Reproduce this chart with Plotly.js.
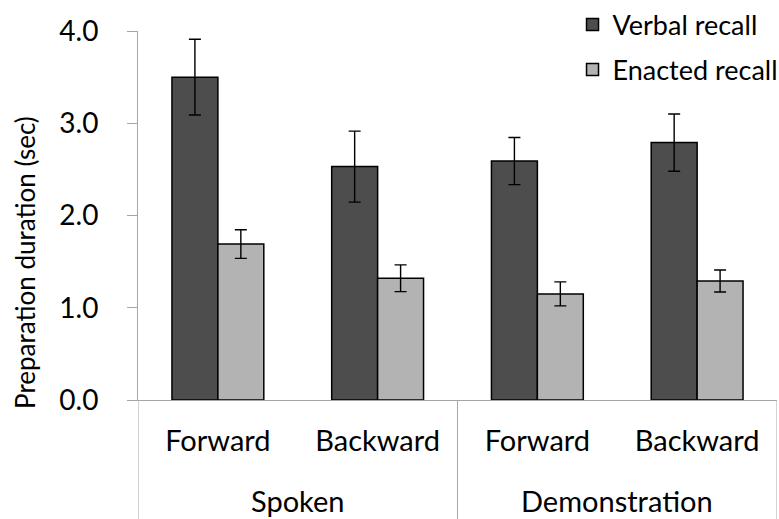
<!DOCTYPE html>
<html>
<head>
<meta charset="utf-8">
<script src="https://cdn.plot.ly/plotly-3.0.1.min.js"></script>
<style>
  html, body { margin: 0; padding: 0; background: #fff; }
  #chart { width: 779px; height: 519px; }
</style>
</head>
<body>
<div id="chart"></div>
<script>
// Preparation duration by instruction mode and recall order
const groups = ["Spoken", "Demonstration"];
const orders = ["Forward", "Backward"];
const tickLabels = ["Forward", "Backward", "Forward", "Backward"];
const positions = [0, 1, 2, 3];

const verbalMean = [3.50, 2.53, 2.59, 2.79];
const verbalErr  = [0.41, 0.385, 0.255, 0.31];
const enactedMean = [1.69, 1.32, 1.15, 1.29];
const enactedErr  = [0.155, 0.145, 0.13, 0.12];

const yTitle = "Preparation duration (sec)";

const FONT = "Lato, 'Open Sans', sans-serif";
const AXIS_GREY = "#a6a6a6";

function barTrace(name, y, err, color) {
  return {
    type: "bar",
    name: name,
    legendgroup: name,
    x: positions,
    y: y,
    marker: { color: color, line: { color: "#000", width: 1.5 } },
    error_y: { type: "data", array: err, visible: true, color: "#000", thickness: 1.4, width: 6 },
    hoverinfo: "y"
  };
}

const traces = [
  barTrace("Verbal recall", verbalMean, verbalErr, "#4d4d4d"),
  barTrace("Enacted recall", enactedMean, enactedErr, "#b3b3b3")
];

// group labels centred beneath each pair of categories
const perGroup = orders.length;
const annotations = groups.map((g, i) => ({
  text: g,
  x: i * perGroup + (perGroup - 1) / 2,
  xref: "x",
  y: -0.2737,
  yref: "paper",
  showarrow: false,
  xanchor: "center",
  yanchor: "middle",
  font: { family: FONT, size: 29, color: "#000" }
}));

// value-axis title, set below the axis midpoint
annotations.push({
  text: yTitle,
  textangle: -90,
  x: -0.178,
  xref: "paper",
  xanchor: "center",
  y: 0.372,
  yref: "paper",
  yanchor: "middle",
  showarrow: false,
  font: { family: FONT, size: 26, color: "#000" }
});

// dividers at the edges of each group
const shapes = [];
for (let i = 0; i <= groups.length; i++) {
  shapes.push({
    type: "line",
    xref: "x",
    yref: "paper",
    x0: i * perGroup - 0.5,
    x1: i * perGroup - 0.5,
    y0: 0,
    y1: -0.33,
    line: { color: AXIS_GREY, width: 1 }
  });
}

const layout = {
  width: 779,
  height: 519,
  margin: { l: 138, r: 2, t: 31, b: 119, autoexpand: false },
  paper_bgcolor: "#fff",
  plot_bgcolor: "#fff",
  font: { family: FONT, size: 27, color: "#000" },
  barmode: "group",
  bargap: 0.425,
  bargroupgap: 0,
  showlegend: true,
  legend: {
    x: 0.68,
    xanchor: "left",
    y: 1.083,
    yanchor: "top",
    traceorder: "grouped",
    tracegroupgap: 7,
    bgcolor: "rgba(0,0,0,0)",
    font: { family: FONT, size: 27, color: "#000" }
  },
  xaxis: {
    range: [-0.5, 3.5],
    tickvals: positions,
    ticktext: tickLabels,
    showgrid: false,
    zeroline: false,
    showline: true,
    linecolor: AXIS_GREY,
    linewidth: 1,
    ticks: "",
    ticklabelstandoff: 15,
    tickfont: { family: FONT, size: 29, color: "#000" },
    fixedrange: true
  },
  yaxis: {
    range: [0, 4],
    tickvals: [0, 1, 2, 3, 4],
    tickformat: ".1f",
    showgrid: false,
    zeroline: false,
    showline: true,
    linecolor: AXIS_GREY,
    linewidth: 1,
    ticks: "outside",
    ticklen: 10,
    tickcolor: AXIS_GREY,
    ticklabelstandoff: 23,
    tickfont: { family: FONT, size: 28, color: "#000" },
    fixedrange: true
  },
  annotations: annotations,
  shapes: shapes
};

Plotly.newPlot("chart", traces, layout, { displayModeBar: false, staticPlot: true });
</script>
</body>
</html>
